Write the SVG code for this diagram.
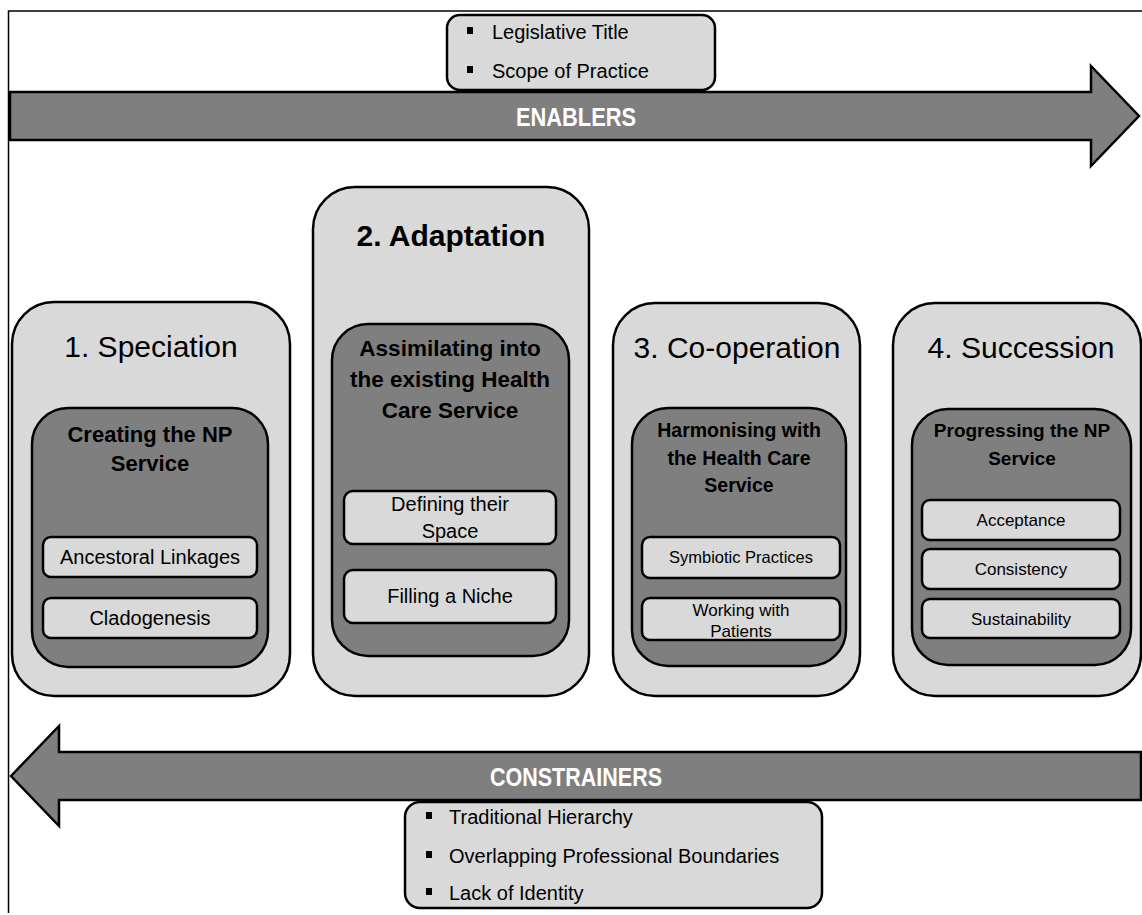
<svg xmlns="http://www.w3.org/2000/svg" width="1142" height="915" viewBox="0 0 1142 915">
<style>
text{font-family:"Liberation Sans",Arial,sans-serif;fill:#000;}
.light{fill:#d9d9d9;stroke:#000;stroke-width:2.5;}
.dark{fill:#7f7f7f;stroke:#000;stroke-width:2.5;}
.arrow{fill:#7f7f7f;stroke:#000;stroke-width:2.5;stroke-linejoin:miter;}
.frame{fill:none;stroke:#000;stroke-width:1.5;}
.stage{font-size:30px;text-anchor:middle;}
.stageb{font-size:30px;font-weight:bold;text-anchor:middle;}
.sub{font-weight:bold;text-anchor:middle;}
.item{text-anchor:middle;}
.bul{font-size:20px;}
.big{font-size:26px;font-weight:bold;fill:#fff;text-anchor:middle;}
.dot{fill:#000;}
</style>
<rect width="1142" height="915" fill="#fff"/>
<path class="frame" d="M8.5 913 V11 H1142"/>

<g id="connectors">
  <polygon id="enablers-arrow" class="arrow" points="10,92 1091,92 1091,66 1139,116 1091,166 1091,140 10,140"/>
  <text class="big" x="576" y="126" textLength="120" lengthAdjust="spacingAndGlyphs">ENABLERS</text>
  <polygon id="constrainers-arrow" class="arrow" points="11,776 59,726 59,752 1141,752 1141,800 59,800 59,826"/>
  <text class="big" x="576" y="786" textLength="172" lengthAdjust="spacingAndGlyphs">CONSTRAINERS</text>
</g>

<g id="enablers-list">
  <rect class="light" x="447" y="15" width="268" height="75" rx="13"/>
  <rect class="dot" x="467" y="27" width="6" height="7"/>
  <text class="bul" x="492" y="39">Legislative Title</text>
  <rect class="dot" x="467" y="66" width="6" height="7"/>
  <text class="bul" x="492" y="78">Scope of Practice</text>
</g>

<g id="constrainers-list">
  <rect class="light" x="405" y="802" width="417" height="106" rx="15"/>
  <rect class="dot" x="426" y="812" width="6" height="7"/>
  <text class="bul" x="449" y="824">Traditional Hierarchy</text>
  <rect class="dot" x="426" y="851" width="6" height="7"/>
  <text class="bul" x="449" y="863">Overlapping Professional Boundaries</text>
  <rect class="dot" x="426" y="888" width="6" height="7"/>
  <text class="bul" x="449" y="900">Lack of Identity</text>
</g>

<g id="stage1">
  <rect class="light" x="12" y="302" width="278" height="394" rx="42"/>
  <text class="stage" x="151" y="357">1. Speciation</text>
  <rect class="dark" x="32" y="408" width="236" height="259" rx="36"/>
  <text class="sub" font-size="22" x="150" y="442">Creating the NP</text>
  <text class="sub" font-size="22" x="150" y="471">Service</text>
  <rect class="light" x="43" y="537" width="214" height="40" rx="8"/>
  <text class="item" font-size="20" x="150" y="564">Ancestoral Linkages</text>
  <rect class="light" x="43" y="598" width="214" height="40" rx="8"/>
  <text class="item" font-size="20" x="150" y="625">Cladogenesis</text>
</g>

<g id="stage2">
  <rect class="light" x="313" y="187" width="276" height="509" rx="42"/>
  <text class="stageb" x="451" y="246">2. Adaptation</text>
  <rect class="dark" x="332" y="324" width="237" height="332" rx="36"/>
  <text class="sub" font-size="22.5" x="450" y="356">Assimilating into</text>
  <text class="sub" font-size="22.5" x="450" y="387">the existing Health</text>
  <text class="sub" font-size="22.5" x="450" y="418">Care Service</text>
  <rect class="light" x="344" y="491" width="212" height="53" rx="9"/>
  <text class="item" font-size="20" x="450" y="511">Defining their</text>
  <text class="item" font-size="20" x="450" y="538">Space</text>
  <rect class="light" x="344" y="570" width="212" height="53" rx="9"/>
  <text class="item" font-size="20" x="450" y="603">Filling a Niche</text>
</g>

<g id="stage3">
  <rect class="light" x="613" y="303" width="247" height="393" rx="42"/>
  <text class="stage" x="737" y="358">3. Co-operation</text>
  <rect class="dark" x="632" y="408" width="214" height="258" rx="36"/>
  <text class="sub" font-size="19.5" x="739" y="437">Harmonising with</text>
  <text class="sub" font-size="19.5" x="739" y="465">the Health Care</text>
  <text class="sub" font-size="19.5" x="739" y="492">Service</text>
  <rect class="light" x="642" y="537" width="198" height="41" rx="8"/>
  <text class="item" font-size="16.5" x="741" y="563">Symbiotic Practices</text>
  <rect class="light" x="642" y="598" width="198" height="42" rx="8"/>
  <text class="item" font-size="17" x="741" y="616">Working with</text>
  <text class="item" font-size="17" x="741" y="637">Patients</text>
</g>

<g id="stage4">
  <rect class="light" x="893" y="303" width="248" height="393" rx="42"/>
  <text class="stage" x="1021" y="358">4. Succession</text>
  <rect class="dark" x="912" y="409" width="219" height="256" rx="36"/>
  <text class="sub" font-size="19" x="1022" y="437">Progressing the NP</text>
  <text class="sub" font-size="19" x="1022" y="465">Service</text>
  <rect class="light" x="922" y="500" width="198" height="40" rx="8"/>
  <text class="item" font-size="17" x="1021" y="526">Acceptance</text>
  <rect class="light" x="922" y="549" width="198" height="40" rx="8"/>
  <text class="item" font-size="17" x="1021" y="575">Consistency</text>
  <rect class="light" x="922" y="599" width="198" height="39" rx="8"/>
  <text class="item" font-size="17" x="1021" y="625">Sustainability</text>
</g>
</svg>
